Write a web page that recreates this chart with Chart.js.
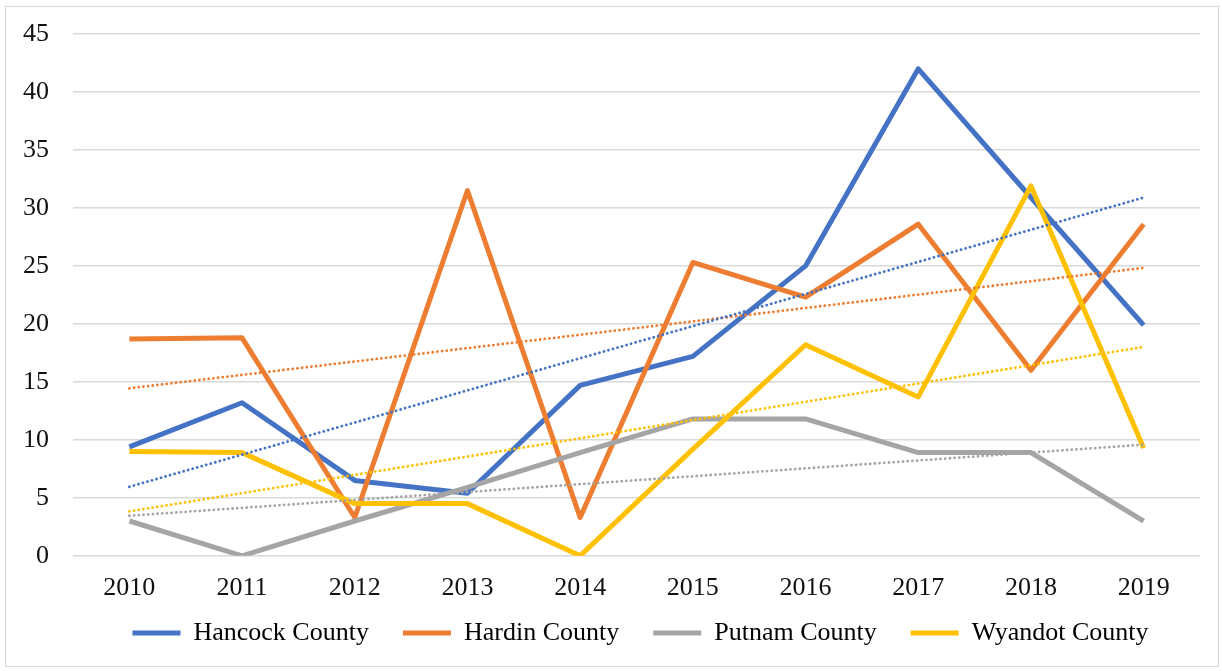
<!DOCTYPE html>
<html>
<head>
<meta charset="utf-8">
<script src="https://cdn.jsdelivr.net/npm/chart.js@4"></script>
<style>
  html, body { margin: 0; padding: 0; background: #fff; }
  #box { position: absolute; left: 5px; top: 6px; width: 1214px; height: 661px; border: 1px solid #d9d9d9; box-sizing: border-box; background: #fff; }
  canvas { display: block; }
</style>
</head>
<body>
<div id="box"><canvas id="c" width="1212" height="659"></canvas></div>
<script>
const years = ['2010','2011','2012','2013','2014','2015','2016','2017','2018','2019'];
const hancock = [9.4, 13.2, 6.5, 5.4, 14.7, 17.2, 25.0, 42.0, 30.9, 19.9];
const hardin  = [18.7, 18.8, 3.3, 31.5, 3.3, 25.3, 22.3, 28.6, 16.0, 28.6];
const putnam  = [3.0, 0.0, 3.0, 5.9, 8.9, 11.8, 11.8, 8.9, 8.9, 3.0];
const wyandot = [9.0, 8.9, 4.5, 4.5, 0.0, 9.2, 18.2, 13.7, 31.9, 9.3];
const seriesNames = ['Hancock County', 'Hardin County', 'Putnam County', 'Wyandot County'];
const colors = ['#4472C4', '#ED7D31', '#A5A5A5', '#FFC000'];
const yTicks = [0, 5, 10, 15, 20, 25, 30, 35, 40, 45];

// linear (least-squares) trendline through a series, as Excel's trendline does
function trend(vals) {
  const n = vals.length;
  let sx = 0, sy = 0, sxy = 0, sxx = 0;
  vals.forEach((v, i) => { sx += i; sy += v; sxy += i * v; sxx += i * i; });
  const b = (n * sxy - sx * sy) / (n * sxx - sx * sx);
  const a = (sy - b * sx) / n;
  return vals.map((_, i) => a + b * i);
}

const all = [hancock, hardin, putnam, wyandot];
const font = "'Liberation Serif', 'DejaVu Serif', serif";

const datasets = [];
all.forEach((vals, k) => {
  datasets.push({
    label: seriesNames[k],
    data: vals,
    borderColor: colors[k],
    backgroundColor: colors[k],
    borderWidth: 5,
    pointRadius: 0,
    tension: 0,
    borderJoinStyle: 'round',
    order: 10 - k
  });
});
all.forEach((vals, k) => {
  datasets.push({
    label: 'trend ' + seriesNames[k],
    data: trend(vals),
    borderColor: colors[k],
    borderWidth: 2.8,
    borderDash: [0.1, 4.6],
    borderCapStyle: 'round',
    pointRadius: 0,
    tension: 0,
    order: 1,
    isTrend: true
  });
});

const legendTweak = {
  id: 'legendTweak',
  beforeInit(chart) {
    const lg = chart.legend;
    const origFit = lg.fit;
    lg.fit = function () { origFit.call(this); this.height = 53; };
    const origDraw = lg.draw;
    lg.draw = function () {
      const saved = [this.top, this.left, this.right];
      this.top -= 27; this.left += 41; this.right += 41;
      origDraw.call(this);
      [this.top, this.left, this.right] = saved;
    };
  }
};

new Chart(document.getElementById('c'), {
  type: 'line',
  data: { labels: years, datasets: datasets },
  plugins: [legendTweak],
  options: {
    responsive: false,
    animation: false,
    layout: { padding: { top: 27, right: 18, left: -7, bottom: 0 } },
    plugins: {
      tooltip: { enabled: false },
      legend: {
        position: 'bottom',
        labels: {
          font: { family: font, size: 26 },
          color: '#111',
          boxWidth: 48,
          boxHeight: 5,
          padding: 34,
          filter: (item, data) => !data.datasets[item.datasetIndex].isTrend,
          generateLabels: (chart) => chart.data.datasets.map((d, i) => ({
            text: d.label, fillStyle: d.borderColor, strokeStyle: d.borderColor,
            lineWidth: 0, datasetIndex: i, hidden: false
          }))
        }
      }
    },
    scales: {
      x: {
        offset: true,
        grid: { display: false },
        border: { display: false },
        ticks: { font: { family: font, size: 26 }, color: '#111', padding: 9 }
      },
      y: {
        min: 0, max: 45,
        afterBuildTicks: (s) => { s.ticks = yTicks.map(v => ({ value: v })); },
        afterFit: (s) => { s.paddingTop = 0; },
        grid: { color: '#d9d9d9', lineWidth: 1.5, drawTicks: false },
        border: { display: false },
        ticks: { font: { family: font, size: 26 }, color: '#111', padding: 24 }
      }
    }
  }
});
</script>
</body>
</html>
